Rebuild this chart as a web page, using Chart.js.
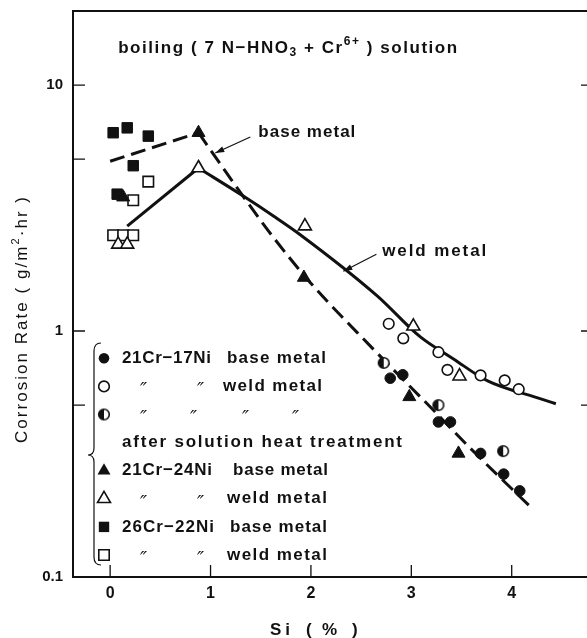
<!DOCTYPE html>
<html>
<head>
<meta charset="utf-8">
<script src="https://cdn.jsdelivr.net/npm/chart.js@4.4.1/dist/chart.umd.min.js"></script>
<style>
  html, body { margin: 0; padding: 0; background: #fff; overflow: hidden; }
</style>
</head>
<body>
<canvas id="chart" width="587" height="638"></canvas>
<script>
// values: Si (%) against corrosion rate (g/m2.hr)
const cr17BaseSi = [2.79, 2.915, 3.27, 3.39, 3.69, 3.92, 4.08];
const cr17BaseRate = [0.643, 0.664, 0.427, 0.427, 0.318, 0.262, 0.224];
const cr17WeldSi = [2.775, 2.92, 3.27, 3.36, 3.69, 3.93, 4.07];
const cr17WeldRate = [1.07, 0.934, 0.82, 0.695, 0.66, 0.63, 0.58];
const cr17HeatSi = [2.725, 3.27, 3.915];
const cr17HeatRate = [0.742, 0.5, 0.325];
const cr24BaseSi = [0.13, 0.88, 1.93, 2.98, 3.47];
const cr24BaseRate = [3.5, 6.4, 1.65, 0.54, 0.318];
const cr24WeldSi = [0.08, 0.17, 0.88, 1.94, 3.02, 3.48];
const cr24WeldRate = [2.25, 2.25, 4.6, 2.67, 1.045, 0.655];
const cr26BaseSi = [0.03, 0.17, 0.38, 0.23, 0.07];
const cr26BaseRate = [6.4, 6.7, 6.2, 4.7, 3.6];
const cr26WeldSi = [0.38, 0.23, 0.03, 0.13, 0.23];
const cr26WeldRate = [4.05, 3.4, 2.45, 2.45, 2.45];

// hand-drawn trend curves
const baseCurveSi = [0, 0.88, 1.23, 1.62, 1.99, 2.59, 3.17, 3.59, 4.22];
const baseCurveRate = [4.9, 6.4, 4.0, 2.42, 1.58, 0.87, 0.5, 0.333, 0.187];
const weldCurveSi = [0.17, 0.88, 1.33, 1.63, 1.89, 2.66, 3.09, 3.42, 3.76, 4.29, 4.44];
const weldCurveRate = [2.67, 4.6, 3.53, 2.93, 2.47, 1.39, 0.946, 0.77, 0.627, 0.53, 0.506];

const siTicks = [0, 1, 2, 3, 4];
const rateTicks = [0.1, 0.5, 1, 5, 10];
const rateLabels = { 0.1: "0.1", 1: "1", 10: "10" };
const rightTicks = [10, 1, 0.5];

const INK = "#111";
const FONT = '"Liberation Sans", Arial, sans-serif';

const toPoints = (xs, ys) => xs.map((x, i) => ({ x, y: ys[i] }));

const halfCircle = (() => {
  const c = document.createElement("canvas");
  c.width = 14;
  c.height = 14;
  const g = c.getContext("2d");
  g.beginPath();
  g.arc(7, 7, 5.3, 0, Math.PI * 2);
  g.fillStyle = "#fff";
  g.fill();
  g.beginPath();
  g.arc(7, 7, 5.3, Math.PI / 2, Math.PI * 1.5);
  g.closePath();
  g.fillStyle = INK;
  g.fill();
  g.beginPath();
  g.arc(7, 7, 5.3, 0, Math.PI * 2);
  g.lineWidth = 1.6;
  g.strokeStyle = INK;
  g.stroke();
  return c;
})();

const markerSet = (label, xs, ys, style, filled, radius) => ({
  label,
  data: toPoints(xs, ys),
  showLine: false,
  pointStyle: style,
  pointRadius: radius,
  pointBackgroundColor: filled ? INK : "#fff",
  pointBorderColor: INK,
  pointBorderWidth: filled ? 1 : 1.6,
  order: 1,
});

// a curve rises to one sharp peak and falls smoothly after it
const curveSets = (label, xs, ys, dash) => {
  const peak = ys.indexOf(Math.max(...ys));
  const pts = toPoints(xs, ys);
  const common = {
    label,
    showLine: true,
    pointRadius: 0,
    borderColor: INK,
    borderWidth: 3,
    borderDash: dash,
    fill: false,
    order: 2,
  };
  return [
    { ...common, data: pts.slice(0, peak + 1), tension: 0 },
    { ...common, data: pts.slice(peak), cubicInterpolationMode: "monotone" },
  ];
};

function fitText(ctx, text, x, y, width) {
  ctx.letterSpacing = "0px";
  const w = ctx.measureText(text).width;
  const n = [...text].length;
  ctx.letterSpacing = (n > 1 ? (width - w) / (n - 1) : 0) + "px";
  ctx.fillText(text, x, y);
  ctx.letterSpacing = "0px";
}

// parts: [text, font size, baseline shift]
function richText(ctx, weight, parts, x, y, width) {
  let natural = 0;
  let count = 0;
  parts.forEach(([t, size]) => {
    ctx.font = weight + " " + size + "px " + FONT;
    ctx.letterSpacing = "0px";
    natural += ctx.measureText(t).width;
    count += [...t].length;
  });
  const ls = (width - natural) / (count - 1);
  let cx = x;
  parts.forEach(([t, size, dy]) => {
    ctx.font = weight + " " + size + "px " + FONT;
    ctx.letterSpacing = "0px";
    const w = ctx.measureText(t).width;
    ctx.letterSpacing = ls + "px";
    ctx.fillText(t, cx, y + (dy || 0));
    cx += w + [...t].length * ls;
  });
  ctx.letterSpacing = "0px";
}

function legendMarker(ctx, kind, x, y) {
  ctx.save();
  ctx.strokeStyle = INK;
  ctx.fillStyle = INK;
  ctx.lineWidth = 1.6;
  if (kind === "half") {
    ctx.drawImage(halfCircle, x - 7, y - 7);
  } else if (kind.startsWith("circle")) {
    ctx.beginPath();
    ctx.arc(x, y, 5.3, 0, Math.PI * 2);
    kind === "circleF" ? ctx.fill() : ctx.stroke();
  } else if (kind.startsWith("tri")) {
    const r = 7.5;
    ctx.beginPath();
    ctx.moveTo(x, y - r);
    ctx.lineTo(x + r * 0.866, y + r / 2);
    ctx.lineTo(x - r * 0.866, y + r / 2);
    ctx.closePath();
    kind === "triF" ? ctx.fill() : ctx.stroke();
  } else {
    const s = 5.2;
    ctx.beginPath();
    ctx.rect(x - s, y - s, 2 * s, 2 * s);
    kind === "rectF" ? ctx.fill() : ctx.stroke();
  }
  ctx.restore();
}

function arrow(ctx, x1, y1, x2, y2) {
  const a = Math.atan2(y2 - y1, x2 - x1);
  ctx.save();
  ctx.strokeStyle = INK;
  ctx.fillStyle = INK;
  ctx.lineWidth = 1.2;
  ctx.beginPath();
  ctx.moveTo(x1, y1);
  ctx.lineTo(x2, y2);
  ctx.stroke();
  ctx.beginPath();
  ctx.moveTo(x2, y2);
  ctx.lineTo(x2 - 9 * Math.cos(a) + 3 * Math.sin(a), y2 - 9 * Math.sin(a) - 3 * Math.cos(a));
  ctx.lineTo(x2 - 9 * Math.cos(a) - 3 * Math.sin(a), y2 - 9 * Math.sin(a) + 3 * Math.cos(a));
  ctx.closePath();
  ctx.fill();
  ctx.restore();
}

const DITTO = "\u2033";
const legendRows = [
  { marker: "circleF", texts: [["21Cr\u221217Ni", 122, 89], ["base metal", 227, 99]] },
  { marker: "circleO", texts: [[DITTO, 140], [DITTO, 197], ["weld metal", 223, 99]] },
  { marker: "half", texts: [[DITTO, 140], [DITTO, 190], [DITTO, 242], [DITTO, 292]] },
  { marker: null, texts: [["after solution heat treatment", 122, 280]] },
  { marker: "triF", texts: [["21Cr\u221224Ni", 122, 90], ["base metal", 233, 95]] },
  { marker: "triO", texts: [[DITTO, 140], [DITTO, 197], ["weld metal", 227, 100]] },
  { marker: "rectF", texts: [["26Cr\u221222Ni", 122, 92], ["base metal", 230, 97]] },
  { marker: "rectO", texts: [[DITTO, 140], [DITTO, 197], ["weld metal", 227, 100]] },
];

const TEXT_FONT = "bold 17px " + FONT;

const decor = {
  id: "decor",
  afterDraw(chart) {
    const { ctx, chartArea: area, scales } = chart;
    const xs = scales.x;
    const ys = scales.y;
    ctx.save();
    ctx.strokeStyle = INK;
    ctx.fillStyle = INK;

    // top frame line and inward ticks
    ctx.lineWidth = 2;
    ctx.beginPath();
    ctx.moveTo(area.left, area.top);
    ctx.lineTo(area.right, area.top);
    ctx.stroke();
    ctx.lineWidth = 1.3;
    ctx.beginPath();
    rateTicks.filter((v) => v > 0.1).forEach((v) => {
      const py = ys.getPixelForValue(v);
      ctx.moveTo(area.left, py);
      ctx.lineTo(area.left + 12, py);
    });
    rightTicks.forEach((v) => {
      const py = ys.getPixelForValue(v);
      ctx.moveTo(area.right - 6, py);
      ctx.lineTo(area.right, py);
    });
    siTicks.forEach((v) => {
      const px = xs.getPixelForValue(v);
      ctx.moveTo(px, area.bottom);
      ctx.lineTo(px, area.bottom - 12);
    });
    ctx.stroke();

    ctx.textBaseline = "middle";
    ctx.textAlign = "left";

    // solution title
    richText(ctx, "bold", [
      ["boiling ( 7 N\u2212HNO", 17],
      ["3", 12, 4],
      [" + Cr", 17],
      ["6+", 12, -7],
      [" ) solution", 17],
    ], xs.getPixelForValue(0.08), ys.getPixelForValue(14.1), 339);

    // curve labels
    ctx.font = TEXT_FONT;
    fitText(ctx, "base metal", xs.getPixelForValue(1.476), ys.getPixelForValue(6.4), 97);
    arrow(ctx, xs.getPixelForValue(1.396), ys.getPixelForValue(6.15), xs.getPixelForValue(1.047), ys.getPixelForValue(5.29));
    ctx.font = TEXT_FONT;
    fitText(ctx, "weld metal", xs.getPixelForValue(2.71), ys.getPixelForValue(2.11), 104);
    arrow(ctx, xs.getPixelForValue(2.652), ys.getPixelForValue(2.05), xs.getPixelForValue(2.323), ys.getPixelForValue(1.75));

    // axis titles
    ctx.save();
    ctx.translate(22, 320);
    ctx.rotate(-Math.PI / 2);
    richText(ctx, "normal", [
      ["Corrosion Rate ( g/m", 17],
      ["2", 11, -6],
      ["\u00b7hr )", 17],
    ], -123, 0, 246);
    ctx.restore();
    ctx.font = TEXT_FONT;
    fitText(ctx, "Si", 270, 630, 20);
    ctx.fillText("(", 306, 630);
    ctx.fillText("%", 322, 630);
    ctx.fillText(")", 352, 630);

    // legend with brace
    ctx.lineWidth = 1.2;
    ctx.beginPath();
    ctx.moveTo(101, 343);
    ctx.quadraticCurveTo(94, 343, 94, 351);
    ctx.lineTo(94, 448);
    ctx.quadraticCurveTo(94, 455, 88, 455);
    ctx.quadraticCurveTo(94, 455, 94, 462);
    ctx.lineTo(94, 557);
    ctx.quadraticCurveTo(94, 565, 101, 565);
    ctx.stroke();
    legendRows.forEach((row, i) => {
      const y = 358.3 + i * 28.1;
      if (row.marker) legendMarker(ctx, row.marker, 104, y);
      row.texts.forEach(([t, x, w]) => {
        if (t === DITTO) {
          ctx.font = 'oblique 19px "DejaVu Sans", sans-serif';
          ctx.fillText(t, x, y + 5);
        } else {
          ctx.font = TEXT_FONT;
          fitText(ctx, t, x, y, w);
        }
      });
    });
    ctx.restore();
  },
};

new Chart(document.getElementById("chart"), {
  type: "scatter",
  data: {
    datasets: [
      markerSet("21Cr-17Ni base metal", cr17BaseSi, cr17BaseRate, "circle", true, 5.3),
      markerSet("21Cr-17Ni weld metal", cr17WeldSi, cr17WeldRate, "circle", false, 5.3),
      markerSet("21Cr-17Ni after solution heat treatment", cr17HeatSi, cr17HeatRate, halfCircle, true, 5.3),
      markerSet("21Cr-24Ni base metal", cr24BaseSi, cr24BaseRate, "triangle", true, 7.5),
      markerSet("21Cr-24Ni weld metal", cr24WeldSi, cr24WeldRate, "triangle", false, 7.5),
      markerSet("26Cr-22Ni base metal", cr26BaseSi, cr26BaseRate, "rect", true, 7.4),
      markerSet("26Cr-22Ni weld metal", cr26WeldSi, cr26WeldRate, "rect", false, 7.4),
      ...curveSets("base metal", baseCurveSi, baseCurveRate, [15, 7]),
      ...curveSets("weld metal", weldCurveSi, weldCurveRate, []),
    ],
  },
  options: {
    responsive: false,
    animation: false,
    layout: { autoPadding: false, padding: { top: 11, left: 0, right: 0, bottom: 0 } },
    plugins: { legend: { display: false }, tooltip: { enabled: false } },
    scales: {
      x: {
        type: "linear",
        min: -0.37,
        max: 4.75,
        afterBuildTicks: (s) => { s.ticks = siTicks.map((v) => ({ value: v })); },
        afterFit: (s) => {
          s.height = 61;
          s.paddingLeft = 0;
          s.paddingRight = 0;
        },
        grid: { display: false, drawTicks: false },
        border: { display: true, color: INK, width: 2 },
        ticks: { color: INK, padding: 7, font: { family: FONT, size: 16, weight: "bold" }, maxRotation: 0 },
      },
      y: {
        type: "logarithmic",
        min: 0.1,
        max: 20,
        afterBuildTicks: (s) => { s.ticks = rateTicks.map((v) => ({ value: v })); },
        afterFit: (s) => {
          s.width = 73;
          s.paddingTop = 0;
          s.paddingBottom = 0;
        },
        grid: { display: false, drawTicks: false },
        border: { display: true, color: INK, width: 2 },
        ticks: {
          color: INK,
          padding: 10,
          autoSkip: false,
          font: { family: FONT, size: 15, weight: "bold" },
          callback: (v) => rateLabels[v] || "",
        },
      },
    },
  },
  plugins: [decor],
});
</script>
</body>
</html>
